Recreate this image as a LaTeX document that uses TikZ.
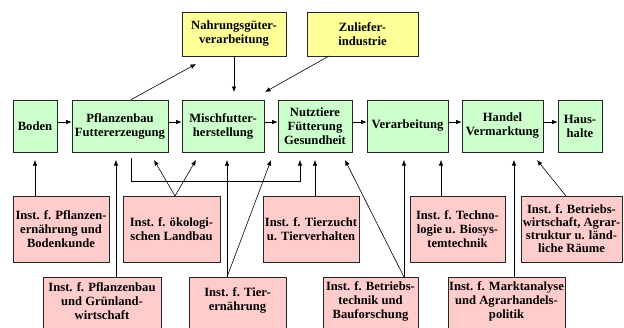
\documentclass[tikz,border=0pt]{standalone}
\usepackage{fontspec}
\setmainfont{Liberation Serif}
\usetikzlibrary{arrows.meta}
\definecolor{gfill}{HTML}{CCFFCC}
\definecolor{yfill}{HTML}{FFFF99}
\definecolor{pfill}{HTML}{FFCCCC}
\begin{document}
\begin{tikzpicture}[x=1pt,y=-1pt,
  txt/.style={align=center, font=\fontsize{12.6}{14}\selectfont\bfseries},
  box/.style={txt, draw=black!85, line width=0.7pt, inner sep=1pt},
  gbox/.style={box, fill=gfill, minimum height=52pt},
  ybox/.style={box, fill=yfill, minimum height=44pt},
  pbox/.style={box, fill=pfill, minimum height=66pt},
  qbox/.style={box, fill=pfill, minimum height=70pt, anchor=north},
  lbl/.style={txt, inner sep=0pt},
  arr/.style={-{Latex[length=5.5pt,width=4.5pt]}, line width=0.6pt, draw=black}]
\useasboundingbox (0,0) rectangle (624,327);
\clip (0,0) rectangle (624,327);
\fill[white] (0,0) rectangle (624,327);

% top yellow boxes
\node[ybox, minimum width=104pt] (nah) at (234,34) {Nahrungsgüter-\\verarbeitung};
\node[ybox, minimum width=111pt] (zul) at (362.5,34) {Zuliefer-\\industrie};

% green chain
\node[gbox, minimum width=44pt] (bod) at (35,126) {Boden};
\node[gbox, minimum width=96pt] (pfl) at (120,126) {Pflanzenbau\\Futtererzeugung};
\node[gbox, minimum width=82pt] (mis) at (223,126) {Mischfutter-\\herstellung};
\node[gbox, minimum width=74pt] (nut) at (315,126) {Nutztiere\\Fütterung\\Gesundheit};
\node[gbox, minimum width=81pt] (ver) at (407.5,126) {Verarbeitung};
\node[gbox, minimum width=81pt] (han) at (502.5,126) {Handel\\Vermarktung};
\node[gbox, minimum width=44pt] (hau) at (580,126) {Haus-\\halte};

% pink row 1
\node[pbox, minimum width=96pt] (pen) at (61,229) {Inst. f. Pflanzen-\\ernährung und\\Bodenkunde};
\node[pbox, minimum width=97pt] (oek) at (171.5,229) {Inst. f. ökologi-\\schen Landbau};
\node[pbox, minimum width=96pt] (tzu) at (311,229) {Inst. f. Tierzucht\\u. Tierverhalten};
\node[pbox, minimum width=95pt] (tec) at (457.5,229) {Inst. f. Techno-\\logie u. Biosys-\\temtechnik};
\node[pbox, minimum width=101pt, font=\fontsize{12.6}{13}\selectfont\bfseries] (bwi) at (571.5,229) {Inst. f. Betriebs-\\wirtschaft, Agrar-\\struktur u. länd-\\liche Räume};

% pink row 2 (boxes run past the lower edge)
\node[qbox, minimum width=118pt] (pgr) at (102,277) {};
\node[lbl] (pgrt) at (102,301) {Inst. f. Pflanzenbau\\und Grünland-\\wirtschaft};
\node[qbox, minimum width=97pt] (tie) at (237.5,277) {};
\node[lbl] (tiet) at (237.5,300) {Inst. f. Tier-\\ernährung};
\node[qbox, minimum width=95pt] (bte) at (370.5,277) {};
\node[lbl] (btet) at (370.5,301) {Inst. f. Betriebs-\\technik und\\Bauforschung};
\node[qbox, minimum width=117pt] (mkt) at (506.5,277) {};
\node[lbl] (mktt) at (506.5,301) {Inst. f. Marktanalyse\\und Agrarhandels-\\politik};

% helper coordinates
\coordinate (hl) at (0,122);
\coordinate (up) at (0,160);
\coordinate (nahend) at (196,64);
\coordinate (misend) at (234,92);
\coordinate (zulstart) at (329,56);
\coordinate (zulend) at (265,92);
\coordinate (brs) at (131,158);
\coordinate (brl) at (131,181);
\coordinate (brr) at (300,181);
\coordinate (bre) at (300,160);
\coordinate (oekapex) at (175,196);
\coordinate (oeka) at (154,160);
\coordinate (oekb) at (196,160);
\coordinate (tieb) at (271,160);
\coordinate (bteb) at (345,160);
\coordinate (bwie) at (537,160);
\coordinate (bwis) at (566,196);
\coordinate (xpgr) at (116,160);
\coordinate (xtie) at (227,160);
\coordinate (xtzu) at (315,160);
\coordinate (xbte) at (404,160);
\coordinate (xtec) at (441,160);
\coordinate (xmkt) at (514,160);

% chain arrows
\draw[arr] (bod.east |- hl) -- (pfl.west |- hl);
\draw[arr] (pfl.east |- hl) -- (mis.west |- hl);
\draw[arr] (mis.east |- hl) -- (nut.west |- hl);
\draw[arr] (nut.east |- hl) -- (ver.west |- hl);
\draw[arr] (ver.east |- hl) -- (han.west |- hl);
\draw[arr] (han.east |- hl) -- (hau.west |- hl);

% upper connections
\draw[arr] (pfl.north -| brs) -- (nahend);
\draw[arr] (nah.south) -- (misend);
\draw[arr] (zulstart) -- (zulend);

% lower connections
\draw[arr] (pen.north -| bod.south) -- (bod.south |- up);
\draw[arr] (pgr.north -| xpgr) -- (xpgr);
\draw[arr] (brs) -- (brl) -- (brr) -- (bre);
\draw[arr] (oekapex) -- (oeka);
\draw[arr] (oekapex) -- (oekb);
\draw[arr] (tie.north -| xtie) -- (xtie);
\draw[arr] (tie.north -| xtie) -- (tieb);
\draw[arr] (tzu.north -| xtzu) -- (xtzu);
\draw[arr] (bte.north -| xbte) -- (xbte);
\draw[arr] (bte.north -| xbte) -- (bteb);
\draw[arr] (tec.north -| xtec) -- (xtec);
\draw[arr] (mkt.north -| xmkt) -- (xmkt);
\draw[arr] (bwis) -- (bwie);
\end{tikzpicture}
\end{document}
